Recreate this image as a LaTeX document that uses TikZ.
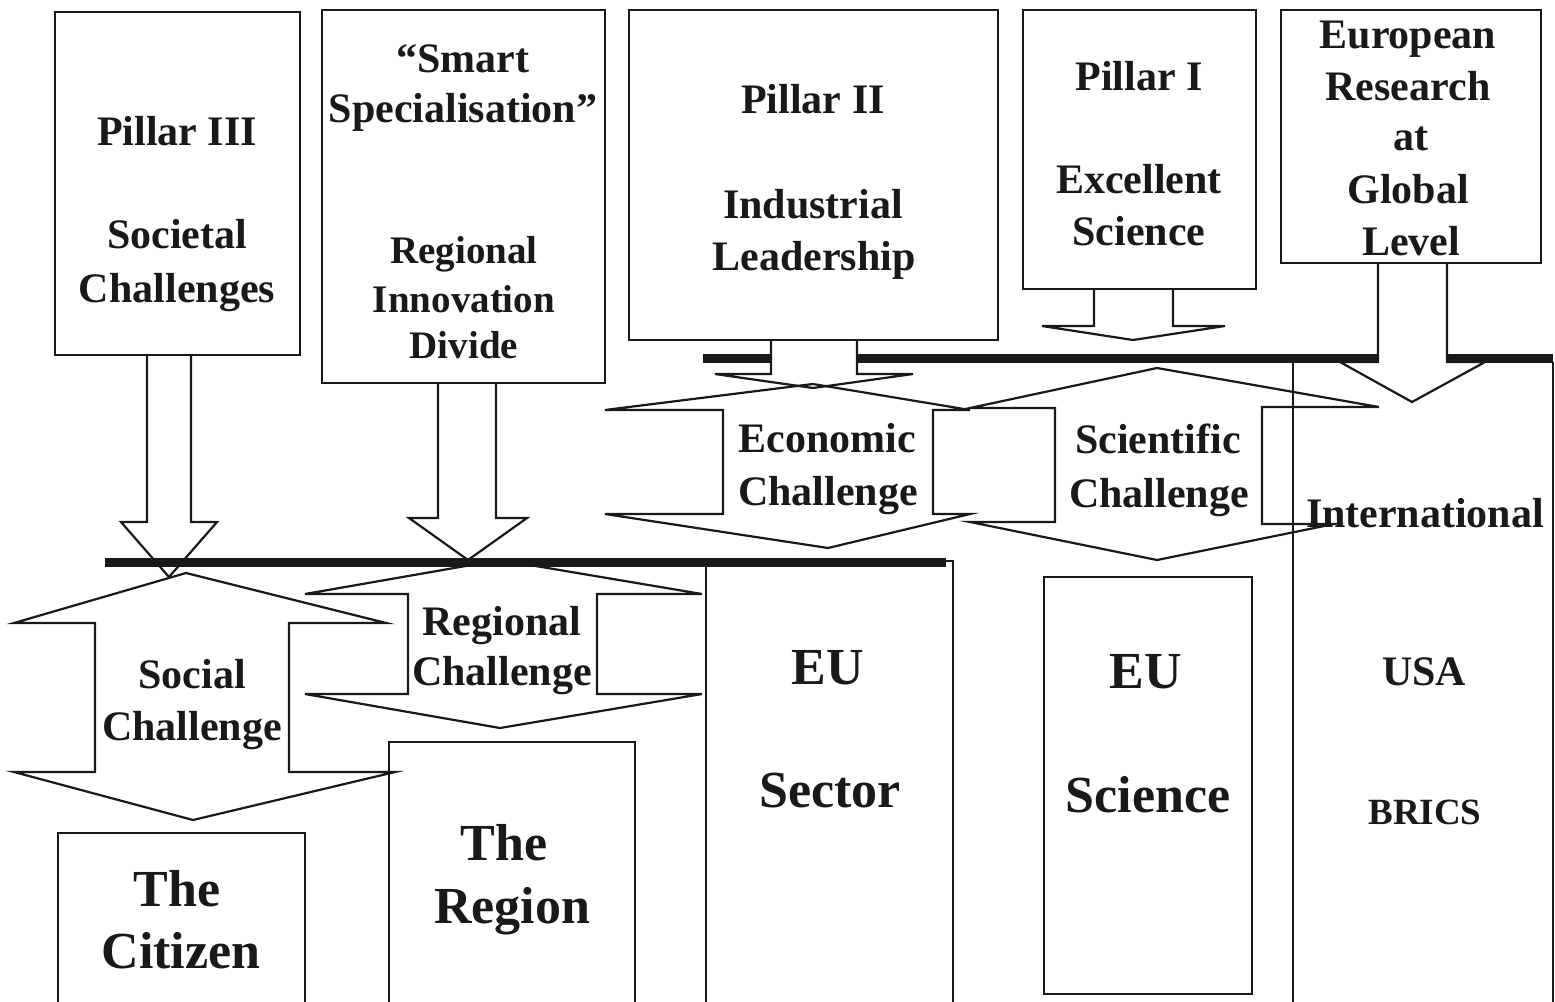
\documentclass[tikz,border=0pt]{standalone}
\usepackage{fontspec}
\setmainfont{Liberation Serif}
\usetikzlibrary{fit}
\begin{document}
\begin{tikzpicture}[x=1pt,y=-1pt,
  box/.style={draw=black!90, line width=2.4pt, inner sep=0pt, outer sep=0pt},
  openbox/.style={inner sep=0pt, outer sep=0pt},
  side/.style={draw=black!90, line width=2.4pt},
  lbl/.style={anchor=base, inner sep=0pt, text=black!90, font=\bfseries\fontsize{42}{50}\selectfont},
  mid/.style={lbl, font=\bfseries\fontsize{39}{47}\selectfont},
  sml/.style={lbl, font=\bfseries\fontsize{37}{44}\selectfont},
  big/.style={lbl, font=\bfseries\fontsize{52}{60}\selectfont},
  blockarrow/.style={draw=black!90, line width=2.2pt, line join=miter},
  bar/.style={draw=black!90, line width=9pt}]

\fill[white] (0,0) rectangle (1555,1001);
\useasboundingbox (0,0) rectangle (1555,1001);
\clip (0,0) rectangle (1555,1001);

% ---------- top boxes ----------
\node[box, fit={(55,12)(300,355)}] (p3) {};
\node[box, fit={(322,10)(605,383)}] (ss) {};
\node[box, fit={(629,10)(998,340)}] (p2) {};
\node[box, fit={(1023,10)(1256,289)}] (p1) {};
\node[box, fit={(1281,10)(1541,263)}] (er) {};

\node[lbl] (p3a) at (177,145) {Pillar III};
\node[lbl] (p3b) at (177,248) {Societal};
\node[lbl] (p3c) at (177,302) {Challenges};

\node[lbl] (ssa) at (463,72) {“Smart};
\node[lbl] (ssb) at (463,122) {Specialisation”};
\node[mid] (ssc) at (464,263) {Regional};
\node[mid] (ssd) at (464,312) {Innovation};
\node[mid] (sse) at (464,358) {Divide};

\node[lbl] (p2a) at (813,113) {Pillar II};
\node[lbl] (p2b) at (813,218) {Industrial};
\node[lbl] (p2c) at (814,270) {Leadership};

\node[lbl] (p1a) at (1139,90) {Pillar I};
\node[lbl] (p1b) at (1139,193) {Excellent};
\node[lbl] (p1c) at (1139,245) {Science};

\node[lbl] (era) at (1408,48) {European};
\node[lbl] (erb) at (1408,100) {Research};
\node[lbl] (erc) at (1411,150) {at};
\node[lbl] (erd) at (1408,203) {Global};
\node[lbl] (ere) at (1411,255) {Level};

% ---------- bottom boxes ----------
\node[box, fit={(58,833)(305,1008)}] (cit) {};
\node[box, fit={(389,742)(635,1008)}] (reg) {};
\node[box, fit={(706,561)(953,1008)}] (sec) {};
\node[box, fit={(1044,577)(1252,994)}] (sci) {};
\node[openbox, fit={(1293,362)(1553,1008)}] (int) {};
\draw[side] (int.north west) -- (int.south west);
\draw[side] (int.north east) -- (int.south east);

\node[big] (cita) at (177,906) {The};
\node[big] (citb) at (181,968) {Citizen};
\node[big] (rega) at (504,860) {The};
\node[big] (regb) at (512,923) {Region};
\node[big] (seca) at (828,684) {EU};
\node[big] (secb) at (830,807) {Sector};
\node[big] (scia) at (1146,688) {EU};
\node[big] (scib) at (1148,812) {Science};
\node[lbl] (inta) at (1425,527) {International};
\node[lbl] (intb) at (1424,685) {USA};
\node[sml] (intc) at (1425,824) {BRICS};

% ---------- bars ----------
\draw[bar] (703,358) -- (771,358);
\draw[bar] (857,358) -- (1378,358);
\draw[bar] (1447,358) -- (1553,358);
\draw[bar] (105,562) -- (946,562);

% ---------- single block arrows ----------
\draw[blockarrow] ([xshift=-30.5pt]p3.south) -- (147,522) -- (121,522) -- (169,577)
   -- (217,522) -- (191,522) -- ([xshift=13.5pt]p3.south);
\draw[blockarrow] ([xshift=-25.5pt]ss.south) -- (438,518) -- (409,518) -- (468,560)
   -- (527,518) -- (496,518) -- ([xshift=32.5pt]ss.south);
\draw[blockarrow] ([xshift=-42.5pt]p2.south) -- (771,374) -- (715,374) -- (813,388)
   -- (913,374) -- (857,374) -- ([xshift=43.5pt]p2.south);
\draw[blockarrow] ([xshift=-45.5pt]p1.south) -- (1094,326) -- (1042,326) -- (1133,340)
   -- (1225,326) -- (1173,326) -- ([xshift=33.5pt]p1.south);
\draw[blockarrow] ([xshift=-33pt]er.south) -- (1378,362) -- (1340,362) -- (1412,402)
   -- (1485,362) -- (1447,362) -- ([xshift=36pt]er.south);

% ---------- double block arrows ----------
% Social Challenge
\draw[blockarrow] (186,573) -- (386,623) -- (289,623) -- (289,772) -- (395,772)
   -- (193,820) -- (14,772) -- (95,772) -- (95,623) -- (14,623) -- cycle;
% Regional Challenge
\draw[blockarrow] (500,560) -- (702,594) -- (597,594) -- (597,694) -- (702,694)
   -- (500,728) -- (305,694) -- (408,694) -- (408,594) -- (305,594) -- cycle;
% Economic Challenge
\draw[blockarrow] (813,384) -- (970,410) -- (933,410) -- (933,514) -- (970,514)
   -- (828,548) -- (605,514) -- (723,514) -- (723,410) -- (605,410) -- cycle;
% Scientific Challenge
\draw[blockarrow] (1157,368) -- (1379,407) -- (1262,407) -- (1262,524) -- (1334,524)
   -- (1157,560) -- (970,522) -- (1055,522) -- (1055,408) -- (970,408) -- cycle;

\node[lbl] (soca) at (192,688) {Social};
\node[lbl] (socb) at (192,740) {Challenge};
\node[lbl] (rgca) at (502,635) {Regional};
\node[lbl] (rgcb) at (502,685) {Challenge};
\node[lbl] (ecoa) at (827,452) {Economic};
\node[lbl] (ecob) at (828,505) {Challenge};
\node[lbl] (scca) at (1158,453) {Scientific};
\node[lbl] (sccb) at (1159,507) {Challenge};
\end{tikzpicture}
\end{document}
